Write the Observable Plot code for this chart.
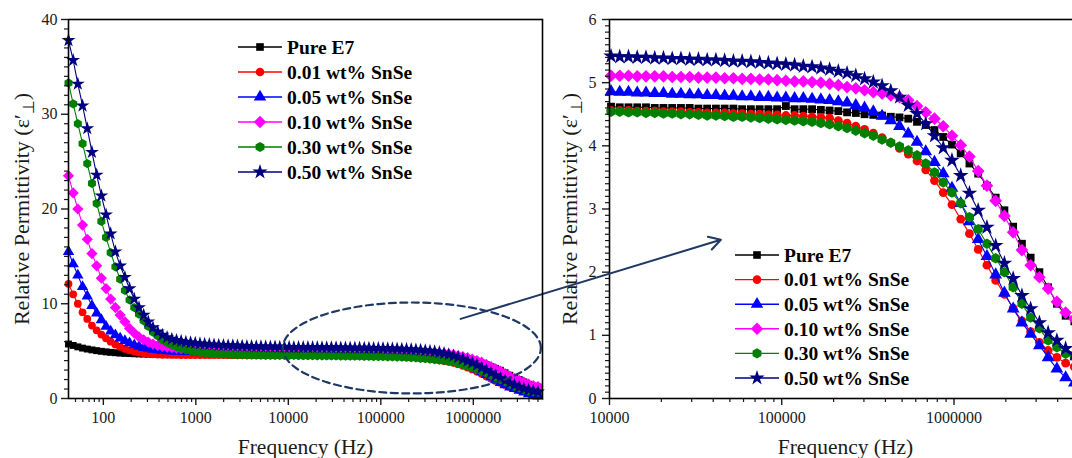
<!DOCTYPE html>
<html>
<head>
<meta charset="utf-8">
<script src="https://cdn.jsdelivr.net/npm/d3@7"></script>
<script src="https://cdn.jsdelivr.net/npm/@observablehq/plot@0.6"></script>
<style>
  html, body { margin: 0; padding: 0; background: #fff; }
  #wrap { position: relative; width: 1072px; height: 458px; overflow: hidden; background: #fff; }
  #leftPanel, #rightPanel { position: absolute; top: 0; }
  #leftPanel { left: 0; width: 560px; height: 458px; z-index: 2; }
  #rightPanel { left: 548px; width: 553px; height: 458px; z-index: 1; }
</style>
</head>
<body>
<div id="wrap"><div id="rightPanel"></div><div id="leftPanel"></div></div>
<script>
// ---------------- data ----------------
const freq = [42, 47.2, 53, 59.6, 67, 75.3, 84.7, 95.2, 107, 120, 135, 152, 171, 192, 216, 243, 273, 306, 344, 387,
  435, 489, 550, 618, 694, 780, 877, 985, 1108, 1245, 1399, 1573, 1768, 1987, 2233, 2510, 2821, 3171, 3565, 4006,
  4503, 5061, 5689, 6394, 7186, 8078, 9078, 10205, 11468, 12890, 14489, 16286, 18306, 20574, 23126, 25989, 29213, 32836, 36902, 41478,
  46619, 52403, 58897, 66202, 74412, 83631, 94001, 105650, 118750, 133460, 150010, 168660, 189580, 213090, 239480, 269150, 302500, 340040, 382240, 429540,
  482830, 542670, 609950, 685490, 770570, 866170, 973400, 1094100, 1229600, 1382100, 1553300, 1746000, 1962600, 2205800, 2479600, 2786800, 3132600, 3520700, 3957600, 4448700, 5000000];

const pureE7 = [5.75,5.60,5.45,5.32,5.22,5.13,5.05,4.98,4.92,4.87,4.83,4.79,4.76,4.74,4.72,4.70,4.69,4.68,4.67,4.66,
  4.66,4.65,4.65,4.65,4.64,4.64,4.64,4.64,4.63,4.63,4.63,4.63,4.63,4.63,4.63,4.62,4.62,4.62,4.62,4.62,
  4.62,4.62,4.62,4.62,4.62,4.62,4.62,4.62,4.61,4.61,4.61,4.61,4.60,4.60,4.60,4.60,4.60,4.59,4.59,4.59,
  4.59,4.59,4.58,4.58,4.58,4.58,4.58,4.63,4.58,4.58,4.58,4.57,4.56,4.55,4.53,4.52,4.50,4.49,4.48,4.46,
  4.45,4.43,4.38,4.33,4.25,4.14,4.02,3.88,3.72,3.56,3.37,3.18,2.98,2.72,2.45,2.23,2.00,1.76,1.50,1.31,1.22];
const snse001 = [12.1,11.0,10.0,9.1,8.4,7.7,7.2,6.75,6.35,6.0,5.7,5.45,5.25,5.08,4.95,4.85,4.77,4.71,4.67,4.64,
  4.62,4.61,4.60,4.60,4.59,4.59,4.59,4.59,4.58,4.58,4.58,4.58,4.58,4.58,4.57,4.57,4.57,4.57,4.57,4.57,
  4.57,4.56,4.56,4.56,4.56,4.56,4.56,4.56,4.56,4.56,4.55,4.55,4.55,4.54,4.54,4.54,4.53,4.53,4.52,4.52,
  4.52,4.51,4.51,4.50,4.50,4.49,4.49,4.48,4.48,4.47,4.46,4.45,4.44,4.40,4.36,4.31,4.26,4.20,4.13,4.05,
  3.96,3.87,3.76,3.62,3.45,3.26,3.07,2.84,2.61,2.36,2.11,1.87,1.65,1.43,1.23,1.06,0.89,0.76,0.65,0.56,0.50];
const snse005 = [15.5,14.2,13.0,11.8,10.8,9.8,9.0,8.3,7.6,7.1,6.7,6.35,6.1,5.85,5.65,5.5,5.37,5.27,5.18,5.11,
  5.06,5.02,4.99,4.97,4.95,4.94,4.93,4.92,4.91,4.90,4.90,4.89,4.89,4.88,4.88,4.88,4.87,4.87,4.87,4.87,
  4.86,4.86,4.86,4.86,4.86,4.86,4.86,4.86,4.85,4.85,4.84,4.84,4.83,4.83,4.82,4.82,4.81,4.81,4.80,4.80,
  4.79,4.79,4.78,4.78,4.77,4.77,4.76,4.76,4.75,4.75,4.74,4.73,4.72,4.70,4.68,4.64,4.60,4.54,4.47,4.40,
  4.31,4.19,4.06,3.91,3.74,3.56,3.33,3.09,2.80,2.52,2.25,1.96,1.67,1.42,1.20,1.02,0.84,0.65,0.47,0.33,0.25];
const snse010 = [23.5,21.7,20.0,18.3,16.8,15.3,14.0,12.7,11.6,10.5,9.6,8.8,8.1,7.4,6.9,6.5,6.2,5.95,5.75,5.6,
  5.50,5.42,5.36,5.31,5.27,5.24,5.21,5.19,5.17,5.16,5.15,5.14,5.14,5.13,5.13,5.13,5.12,5.12,5.12,5.12,
  5.12,5.11,5.11,5.11,5.11,5.11,5.11,5.11,5.11,5.11,5.10,5.10,5.10,5.10,5.09,5.09,5.09,5.08,5.08,5.08,
  5.07,5.07,5.06,5.06,5.05,5.05,5.04,5.03,5.02,5.02,5.01,5.00,4.98,4.96,4.93,4.91,4.88,4.85,4.83,4.80,
  4.77,4.72,4.63,4.53,4.43,4.31,4.16,4.01,3.83,3.60,3.37,3.13,2.89,2.63,2.35,2.11,1.92,1.74,1.53,1.36,1.26];
const snse030 = [33.3,31.1,29.0,26.9,24.8,22.7,20.6,18.7,17.0,15.4,13.9,12.6,11.4,10.4,9.6,8.9,8.2,7.6,7.0,6.6,
  6.2,5.9,5.65,5.45,5.3,5.15,5.05,4.95,4.88,4.82,4.77,4.73,4.70,4.67,4.65,4.63,4.61,4.60,4.59,4.58,
  4.57,4.57,4.56,4.56,4.55,4.55,4.54,4.54,4.54,4.53,4.53,4.52,4.52,4.51,4.51,4.50,4.50,4.49,4.48,4.48,
  4.47,4.46,4.46,4.45,4.44,4.43,4.42,4.41,4.40,4.39,4.38,4.36,4.34,4.31,4.28,4.24,4.20,4.16,4.10,4.05,
  3.99,3.93,3.85,3.72,3.58,3.42,3.26,3.09,2.87,2.68,2.45,2.22,2.00,1.76,1.50,1.28,1.11,0.92,0.81,0.71,0.66];
const snse050 = [37.8,35.7,33.2,30.9,28.5,26.0,23.6,21.4,19.4,17.4,15.5,14.0,12.8,11.6,10.5,9.6,8.8,8.1,7.5,7.05,
  6.7,6.45,6.28,6.15,6.05,5.97,5.9,5.84,5.79,5.75,5.71,5.68,5.65,5.62,5.6,5.58,5.56,5.54,5.52,5.51,
  5.49,5.48,5.47,5.46,5.45,5.44,5.43,5.42,5.41,5.41,5.40,5.40,5.39,5.39,5.38,5.38,5.37,5.37,5.36,5.36,
  5.35,5.34,5.34,5.33,5.32,5.31,5.30,5.29,5.28,5.26,5.25,5.23,5.21,5.18,5.15,5.11,5.06,5.01,4.95,4.87,
  4.77,4.64,4.51,4.35,4.16,3.97,3.77,3.53,3.25,2.98,2.71,2.42,2.14,1.90,1.63,1.42,1.20,1.04,0.92,0.79,0.70];

const seriesNames = ["Pure E7", "0.01 wt% SnSe", "0.05 wt% SnSe", "0.10 wt% SnSe", "0.30 wt% SnSe", "0.50 wt% SnSe"];
const seriesValues = [pureE7, snse001, snse005, snse010, snse030, snse050];
const seriesColors = ["#000000", "#ff0000", "#0000ff", "#ff00ff", "#008000", "#000080"];

const leftXTicks = [100, 1000, 10000, 100000, 1000000];
const leftXMinor = [50,60,70,80,90, 200,300,400,500,600,700,800,900, 2000,3000,4000,5000,6000,7000,8000,9000,
  20000,30000,40000,50000,60000,70000,80000,90000, 200000,300000,400000,500000,600000,700000,800000,900000,
  2000000,3000000,4000000,5000000];
const leftYTicks = [0, 10, 20, 30, 40];
const rightXTicks = [10000, 100000, 1000000];
const rightXMinor = [20000,30000,40000,50000,60000,70000,80000,90000, 200000,300000,400000,500000,600000,700000,800000,900000,
  2000000,3000000,4000000,5000000];
const rightYTicks = [0, 1, 2, 3, 4, 5, 6];

const xTitle = "Frequency (Hz)";
const yTitle = "Relative Permittivity (ε′⊥)";

// zoom-region ellipse (log10 frequency centre / half-width in decades) and arrow
const ellipseCenter = {logF: 5.335, eps: 5.33};
const ellipseRadius = {decades: 1.395, eps: 4.8};
const zoomArrow = [{f1: 7.3e5, e1: 8.4, f2: 4.75e8, e2: 16.75}];
const annotColor = "#1f3864";

// ---------------- build ----------------
const hexagon = {
  draw(ctx, size) {
    const r = Math.sqrt(size / (1.5 * Math.sqrt(3)));
    for (let i = 0; i < 6; i++) {
      const a = Math.PI / 3 * i - Math.PI / 2;
      const px = r * Math.cos(a), py = r * Math.sin(a);
      if (i) ctx.lineTo(px, py); else ctx.moveTo(px, py);
    }
    ctx.closePath();
  }
};
const diamond = {
  draw(ctx, size) {
    const h = Math.sqrt(size / 2);
    ctx.moveTo(0, -h); ctx.lineTo(h, 0); ctx.lineTo(0, h); ctx.lineTo(-h, 0); ctx.closePath();
  }
};
const symbols = [d3.symbolSquare, d3.symbolCircle, d3.symbolTriangle, diamond, hexagon, d3.symbolStar];
const symbolScale = [1, 1, 1.08, 1.15, 1.08, 1.12];

const rows = seriesNames.map((name, s) => freq.map((f, i) => ({f, v: seriesValues[s][i], s: name})));

const ellipsePts = d3.range(0, 145).map(i => {
  const t = i / 144 * 2 * Math.PI;
  return {f: Math.pow(10, ellipseCenter.logF + ellipseRadius.decades * Math.cos(t)),
          v: ellipseCenter.eps + ellipseRadius.eps * Math.sin(t)};
});

const fontFam = "'Liberation Serif', 'Times New Roman', serif";
const svgStyle = `overflow: visible; background: transparent; max-width: none; font-family: ${fontFam}; font-size: 16px; color: #1a1a1a;`;

function seriesMarks(r, fmin) {
  const marks = [];
  rows.forEach((data, s) => {
    const d = data.filter(p => p.f >= fmin);
    marks.push(Plot.line(d, {x: "f", y: "v", stroke: seriesColors[s], strokeWidth: 1.1}));
    marks.push(Plot.dot(d, {x: "f", y: "v", fill: seriesColors[s], stroke: "none", symbol: symbols[s], r: r * symbolScale[s]}));
  });
  return marks;
}

function addLegend(svg, x0, y0, step, r) {
  const g = d3.select(svg).append("g")
    .attr("font-family", fontFam).attr("font-weight", "bold").attr("font-size", 19.5)
    .attr("fill", "#000").attr("text-anchor", "start");
  seriesNames.forEach((name, i) => {
    const y = y0 + i * step;
    g.append("line").attr("x1", x0).attr("x2", x0 + 44).attr("y1", y).attr("y2", y)
      .attr("stroke", seriesColors[i]).attr("stroke-width", 1.4);
    const rr = r * symbolScale[i];
    g.append("path").attr("d", d3.symbol(symbols[i], Math.PI * rr * rr)())
      .attr("transform", `translate(${x0 + 22},${y})`).attr("fill", seriesColors[i]);
    g.append("text").attr("x", x0 + 49).attr("y", y).attr("dy", "0.35em").attr("text-anchor", "start").text(name);
  });
}

function fixYTitle(svg) {
  d3.select(svg).selectAll("text").filter(function () { return this.textContent === yTitle; }).each(function () {
    const t = d3.select(this);
    t.text(null);
    t.append("tspan").text("Relative Permittivity (ε′");
    t.append("tspan").attr("dy", 5).attr("font-size", "16px").text("⊥");
    t.append("tspan").attr("dy", -5).text(")");
  });
}

const left = Plot.plot({
  width: 560, height: 458,
  marginLeft: 68, marginRight: 18, marginTop: 19, marginBottom: 60,
  style: svgStyle,
  x: {type: "log", domain: [42, 5.6e6]},
  y: {domain: [0, 40]},
  marks: [
    ...seriesMarks(3.9, 0),
    Plot.line(ellipsePts, {x: "f", y: "v", stroke: annotColor, strokeWidth: 2.2, strokeDasharray: "7,4.5"}),
    Plot.arrow(zoomArrow, {x1: "f1", y1: "e1", x2: "f2", y2: "e2", stroke: annotColor, strokeWidth: 2, headLength: 10}),
    Plot.axisX({ticks: leftXTicks, tickSize: 7, tickPadding: 6, tickFormat: d => String(d), label: null, strokeWidth: 1.4}),
    Plot.axisX({ticks: leftXMinor, tickSize: 4, tickFormat: () => "", label: null, strokeWidth: 1.2}),
    Plot.axisY({ticks: leftYTicks, tickSize: 7, tickPadding: 4, tickFormat: d => String(d), label: null, strokeWidth: 1.4}),
    Plot.axisY({ticks: d3.range(0, 41).filter(v => v % 10), tickSize: 4, tickFormat: () => "", label: null, strokeWidth: 1.2}),
    Plot.frame({stroke: "#000", strokeWidth: 1.6}),
    Plot.text([xTitle], {text: d => d, frameAnchor: "bottom", dy: 49, fontSize: 21.5, textAnchor: "middle", lineAnchor: "middle"}),
    Plot.text([yTitle], {text: d => d, frameAnchor: "left", dx: -47, rotate: -90, fontSize: 22, textAnchor: "middle", lineAnchor: "middle"})
  ]
});
addLegend(left, 238, 47, 25, 4.3);
fixYTitle(left);
document.getElementById("leftPanel").appendChild(left);

const right = Plot.plot({
  width: 553, height: 458,
  marginLeft: 61, marginRight: 20, marginTop: 19, marginBottom: 60,
  style: svgStyle,
  x: {type: "log", domain: [1e4, 5.5e6]},
  y: {domain: [0, 6]},
  marks: [
    ...seriesMarks(4.4, 1e4),
    Plot.axisX({ticks: rightXTicks, tickSize: 7, tickPadding: 6, tickFormat: d => String(d), label: null, strokeWidth: 1.4}),
    Plot.axisX({ticks: rightXMinor, tickSize: 4, tickFormat: () => "", label: null, strokeWidth: 1.2}),
    Plot.axisY({ticks: rightYTicks, tickSize: 7, tickPadding: 6, tickFormat: d => String(d), label: null, strokeWidth: 1.4}),
    Plot.axisY({ticks: d3.range(0, 61).filter(i => i % 10).map(i => i / 10), tickSize: 4, tickFormat: () => "", label: null, strokeWidth: 1.2}),
    Plot.frame({stroke: "#000", strokeWidth: 1.6}),
    Plot.text([xTitle], {text: d => d, frameAnchor: "bottom", dy: 49, fontSize: 21.5, textAnchor: "middle", lineAnchor: "middle"}),
    Plot.text([yTitle], {text: d => d, frameAnchor: "left", dx: -40, rotate: -90, fontSize: 22, textAnchor: "middle", lineAnchor: "middle"})
  ]
});
addLegend(right, 187, 255, 24.6, 4.3);
fixYTitle(right);
document.getElementById("rightPanel").appendChild(right);
</script>
</body>
</html>
